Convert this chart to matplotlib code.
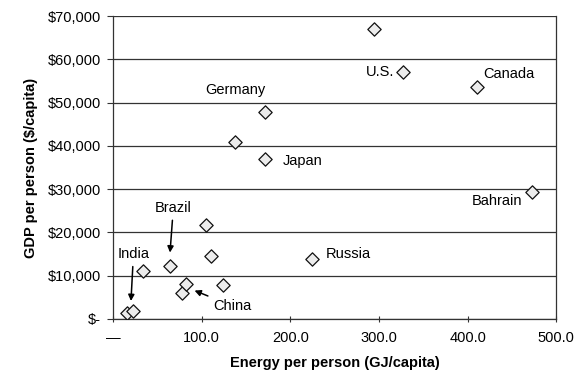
import matplotlib.pyplot as plt
from matplotlib.ticker import FuncFormatter

plt.rcParams['font.family'] = ['Liberation Sans', 'DejaVu Sans']

# energy use (GJ/capita) and GDP ($/capita) by country
energy = [16, 22, 34, 64, 78, 82, 105, 110, 124, 138, 171, 171, 224, 294, 327, 411, 473]
gdp = [1400, 1800, 11100, 12200, 6000, 8100, 21600, 14500, 7800, 41000, 47800, 36900,
       13800, 67000, 57100, 53700, 29300]

fig = plt.figure(figsize=(5.77, 3.73), dpi=100)
ax = fig.add_axes([0.196, 0.145, 0.768, 0.812])

ax.scatter(energy, gdp, marker='D', s=46, facecolor='#ececec', edgecolor='#111111',
           linewidth=0.9, zorder=3)

ax.set_xlim(0, 500)
ax.set_ylim(0, 70000)
ax.set_xticks([0, 100, 200, 300, 400, 500])
ax.set_yticks(range(0, 70001, 10000))
ax.xaxis.set_major_formatter(FuncFormatter(lambda v, p: '\u2014' if v == 0 else f'{v:.1f}'))
ax.yaxis.set_major_formatter(FuncFormatter(lambda v, p: '$-' if v == 0 else f'${v:,.0f}'))
ax.tick_params(axis='x', direction='inout', length=5, labelsize=10.5, pad=6, color='#333333')
ax.tick_params(axis='y', direction='out', length=4, labelsize=10.5, pad=5, color='#333333')

ax.grid(axis='y', color='#333333', linewidth=0.9)
ax.spines['top'].set_visible(False)
for side in ['left', 'right', 'bottom']:
    ax.spines[side].set_color('#333333')
    ax.spines[side].set_linewidth(0.9)

ax.set_xlabel('Energy per person (GJ/capita)', fontsize=10.5, fontweight='bold', labelpad=8)
ax.set_ylabel('GDP per person ($/capita)', fontsize=10.5, fontweight='bold', labelpad=7)

# country labels
fs = 10.5
ax.text(138, 52800, 'Germany', fontsize=fs, ha='center', va='center')
ax.text(191, 36500, 'Japan', fontsize=fs, ha='left', va='center')
ax.text(317, 57000, 'U.S.', fontsize=fs, ha='right', va='center')
ax.text(418, 56600, 'Canada', fontsize=fs, ha='left', va='center')
ax.text(462, 27200, 'Bahrain', fontsize=fs, ha='right', va='center')
ax.text(240, 15000, 'Russia', fontsize=fs, ha='left', va='center')

arrow = dict(arrowstyle='-|>', color='black', lw=1.1, mutation_scale=9)
ax.annotate('Brazil', xy=(64, 14700), xytext=(68, 25700), fontsize=fs,
            ha='center', va='center', arrowprops=arrow)
ax.annotate('India', xy=(20, 3500), xytext=(23, 15000), fontsize=fs,
            ha='center', va='center', arrowprops=arrow)
ax.annotate('China', xy=(89, 6800), xytext=(113, 3000), fontsize=fs,
            ha='left', va='center', arrowprops=arrow)

fig.savefig('out.png', dpi=100)
